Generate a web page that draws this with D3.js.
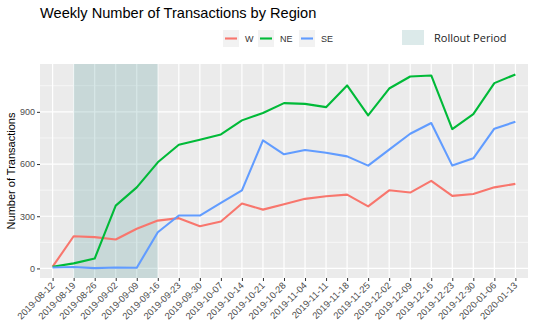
<!DOCTYPE html>
<html><head><meta charset="utf-8">
<script src="https://cdn.jsdelivr.net/npm/d3@7"></script>
<style>body{margin:0;background:#fff}svg{display:block}</style>
</head><body>
<svg id="c" width="541" height="330"></svg>
<script>
const weeks = ["2019-08-12","2019-08-19","2019-08-26","2019-09-02","2019-09-09","2019-09-16","2019-09-23","2019-09-30","2019-10-07","2019-10-14","2019-10-21","2019-10-28","2019-11-04","2019-11-11","2019-11-18","2019-11-25","2019-12-02","2019-12-09","2019-12-16","2019-12-23","2019-12-30","2020-01-06","2020-01-13"];
const W  = [10,185,180,166,228,275,289,243,270,373,338,369,400,415,424,357,449,436,503,417,428,466,486];
const NE = [10,29,57,361,466,610,711,740,770,851,893,950,946,927,1052,880,1034,1103,1109,801,887,1065,1115];
const SE = [5,8,2,5,4,208,304,304,377,449,736,656,681,665,644,591,683,774,836,591,633,803,843];
const seriesNames = ["W","NE","SE"];
const seriesColors = ["#F8766D","#00BA38","#619CFF"];
const yTicks = [0,300,600,900];
const yMinor = [150,450,750,1050];
const rollout = ["2019-08-19","2019-09-16"];

const svg = d3.select("#c");
const L=40,R=528,T=64,B=278;
const x = d3.scalePoint().domain(weeks).range([L,R]).padding(0.6);
const y = d3.scaleLinear().domain([-55,1175]).range([B,T]);

svg.append("rect").attr("x",L).attr("y",T).attr("width",R-L).attr("height",B-T).attr("fill","#ebebeb");
const g = svg.append("g");
g.selectAll(".ymin").data(yMinor).join("line").attr("x1",L).attr("x2",R).attr("y1",d=>y(d)).attr("y2",d=>y(d)).attr("stroke","#fff").attr("stroke-width",0.6);
g.selectAll(".ymaj").data(yTicks).join("line").attr("x1",L).attr("x2",R).attr("y1",d=>y(d)).attr("y2",d=>y(d)).attr("stroke","#fff").attr("stroke-width",1.2);
g.selectAll(".xmaj").data(weeks).join("line").attr("y1",T).attr("y2",B).attr("x1",d=>x(d)).attr("x2",d=>x(d)).attr("stroke","#fff").attr("stroke-width",1.2);

// rollout shade
svg.append("rect").attr("x",x(rollout[0])).attr("y",T).attr("width",x(rollout[1])-x(rollout[0])).attr("height",B-T)
  .attr("fill","#5f9ea0").attr("fill-opacity",0.25);

const data = [W,NE,SE];
const line = d3.line().x((d,i)=>x(weeks[i])).y(d=>y(d));
data.forEach((s,k)=>{
  svg.append("path").datum(s).attr("d",line).attr("fill","none").attr("stroke",seriesColors[k]).attr("stroke-width",2.1).attr("stroke-linejoin","round");
});

// axes
const yAxis = svg.append("g").attr("transform",`translate(${L},0)`).call(d3.axisLeft(y).tickValues(yTicks).tickSize(3).tickPadding(2));
yAxis.select(".domain").remove();
yAxis.selectAll("line").attr("stroke","#333");
yAxis.selectAll("text").attr("fill","#4d4d4d").style("font-family","Liberation Sans, Arial, sans-serif").style("font-size","9px");

const xAxis = svg.append("g").attr("transform",`translate(0,${B})`).call(d3.axisBottom(x).tickSize(3));
xAxis.select(".domain").remove();
xAxis.selectAll("line").attr("stroke","#333");
xAxis.selectAll("text").attr("fill","#4d4d4d").style("font-family","Liberation Sans, Arial, sans-serif").style("font-size","9.4px")
  .attr("text-anchor","end").attr("dy",null).attr("y",0)
  .attr("transform","translate(2,8) rotate(-45)");

// titles
svg.append("text").attr("x",40).attr("y",18).text("Weekly Number of Transactions by Region")
  .style("font-family","Liberation Sans, Arial, sans-serif").style("font-size","14.6px").attr("fill","#000");
svg.append("text").attr("transform",`translate(15,${(T+B)/2}) rotate(-90)`).attr("text-anchor","middle")
  .text("Number of Transactions").style("font-family","Liberation Sans, Arial, sans-serif").style("font-size","11px").attr("fill","#000");

// legend
const lx = [223,258,299];
seriesNames.forEach((n,k)=>{
  svg.append("rect").attr("x",lx[k]).attr("y",30).attr("width",16).attr("height",17).attr("fill","#f2f2f2");
  svg.append("line").attr("x1",lx[k]+2).attr("x2",lx[k]+14).attr("y1",38.5).attr("y2",38.5).attr("stroke",seriesColors[k]).attr("stroke-width",2.1);
  svg.append("text").attr("x",lx[k]+22).attr("y",42).text(n).style("font-family","Liberation Sans, Arial, sans-serif").style("font-size","9px").attr("fill","#333");
});
svg.append("rect").attr("x",402).attr("y",30).attr("width",22).attr("height",15).attr("fill","#5f9ea0").attr("fill-opacity",0.22);
svg.append("text").attr("x",434).attr("y",42).text("Rollout Period").style("font-family","Open Sans, sans-serif").style("font-size","11px").attr("fill","#222");
</script>
</body></html>
